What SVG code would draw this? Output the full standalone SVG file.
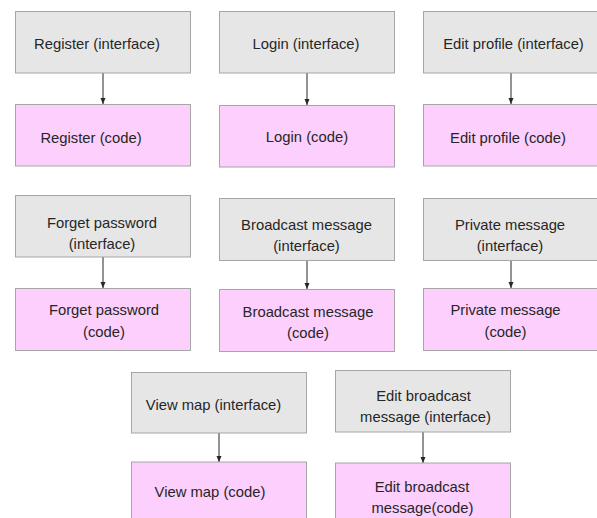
<svg xmlns="http://www.w3.org/2000/svg" width="597" height="518" viewBox="0 0 597 518">
<style>
.ui{fill:#e6e6e6;stroke:#a6a6a6;stroke-width:1}
.cd{fill:#fdcffd;stroke:#a6a6a6;stroke-width:1}
text{font-family:"Liberation Sans",Arial,sans-serif;font-size:14.8px;fill:#262626;text-anchor:middle}
.cn{stroke:#262626;stroke-width:1;fill:none;marker-end:url(#ah)}
</style>
<defs>
<marker id="ah" viewBox="0 0 6 6" refX="6" refY="3" markerWidth="6" markerHeight="6" markerUnits="userSpaceOnUse" orient="auto">
<path d="M0,0.5 L6,3 L0,5.5 z" fill="#262626"/>
</marker>
</defs>
<rect width="597" height="518" fill="#ffffff"/>
<g id="connectors">
<line class="cn" x1="103" y1="73" x2="103" y2="104"/>
<line class="cn" x1="307" y1="73" x2="307" y2="105"/>
<line class="cn" x1="511" y1="73" x2="511" y2="104"/>
<line class="cn" x1="103" y1="257" x2="103" y2="288"/>
<line class="cn" x1="307" y1="261" x2="307" y2="289"/>
<line class="cn" x1="511" y1="261" x2="511" y2="288"/>
<line class="cn" x1="219" y1="433" x2="219" y2="462"/>
<line class="cn" x1="423" y1="432" x2="423" y2="463"/>
</g>
<g id="register-interface"><rect class="ui" x="15.5" y="11.5" width="175" height="61.5"/><text x="97" y="49">Register (interface)</text></g>
<g id="register-code"><rect class="cd" x="15.5" y="104.5" width="175" height="61.5"/><text x="91" y="142.5">Register (code)</text></g>
<g id="login-interface"><rect class="ui" x="219.5" y="11.5" width="175" height="61.5"/><text x="306" y="49">Login (interface)</text></g>
<g id="login-code"><rect class="cd" x="219.5" y="105.5" width="175" height="61.5"/><text x="307" y="142">Login (code)</text></g>
<g id="editprofile-interface"><rect class="ui" x="423.5" y="11.5" width="176" height="61.5"/><text x="513.5" y="49">Edit profile (interface)</text></g>
<g id="editprofile-code"><rect class="cd" x="423.5" y="104.5" width="176" height="61.5"/><text x="508" y="142.5">Edit profile (code)</text></g>
<g id="forget-interface"><rect class="ui" x="15.5" y="195.5" width="175" height="61.5"/><text x="102" y="227.5">Forget password</text><text x="102" y="249">(interface)</text></g>
<g id="forget-code"><rect class="cd" x="15.5" y="288.5" width="175" height="62"/><text x="104" y="314.5">Forget password</text><text x="104" y="336.5">(code)</text></g>
<g id="broadcast-interface"><rect class="ui" x="219.5" y="198.5" width="175" height="62"/><text x="306.5" y="229.5">Broadcast message</text><text x="306.5" y="250.5">(interface)</text></g>
<g id="broadcast-code"><rect class="cd" x="219.5" y="289.5" width="175" height="62"/><text x="308" y="316.5">Broadcast message</text><text x="308" y="338">(code)</text></g>
<g id="private-interface"><rect class="ui" x="423.5" y="198.5" width="176" height="62"/><text x="510" y="229.5">Private message</text><text x="510" y="250.5">(interface)</text></g>
<g id="private-code"><rect class="cd" x="423.5" y="288.5" width="176" height="62"/><text x="505.5" y="314.5">Private message</text><text x="505.5" y="336.5">(code)</text></g>
<g id="viewmap-interface"><rect class="ui" x="131.5" y="372.5" width="175" height="60.5"/><text x="213.5" y="410">View map (interface)</text></g>
<g id="viewmap-code"><rect class="cd" x="131.5" y="462" width="175" height="62"/><text x="210" y="496.5">View map (code)</text></g>
<g id="editbroadcast-interface"><rect class="ui" x="335.5" y="370.5" width="175" height="61.5"/><text x="423.5" y="400.5">Edit broadcast</text><text x="425.5" y="421.5">message (interface)</text></g>
<g id="editbroadcast-code"><rect class="cd" x="335.5" y="463" width="175" height="62"/><text x="422" y="491.5">Edit broadcast</text><text x="422.5" y="513">message(code)</text></g>
</svg>
